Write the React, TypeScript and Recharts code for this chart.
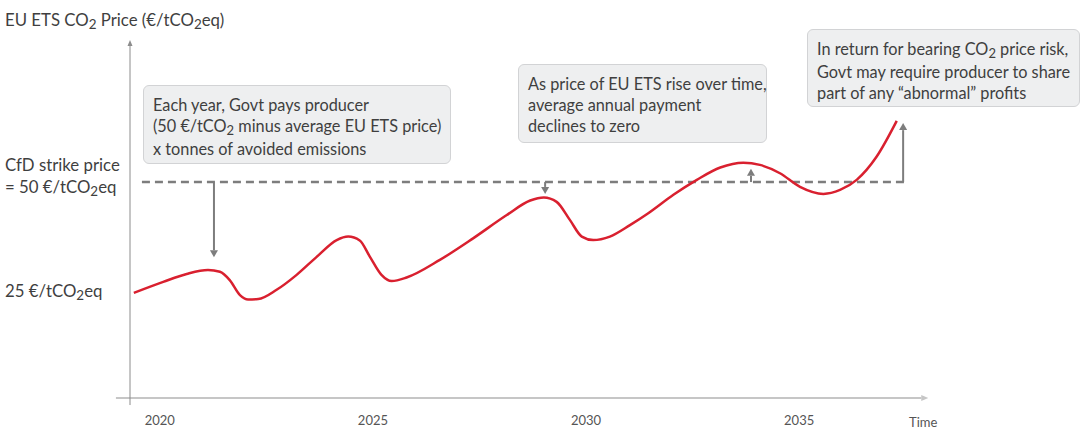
import React from "react";
import { LineChart, Line, XAxis, YAxis, ReferenceLine } from "recharts";

// EU ETS price path (year, €/tCO2eq)
const years = [
  2019.39, 2020.08, 2020.63, 2021.13, 2021.41, 2021.64, 2021.88, 2022.07, 2022.31, 2022.74,
  2023.21, 2023.68, 2024.15, 2024.42, 2024.69, 2024.93, 2025.2, 2025.44, 2025.79, 2026.57,
  2027.35, 2028.14, 2028.69, 2029.01, 2029.31, 2029.62, 2029.9, 2030.17, 2030.56, 2031.03,
  2031.46, 2032.05, 2032.6, 2033.15, 2033.69, 2034.08, 2034.55, 2035.02, 2035.57, 2035.96,
  2036.35, 2036.82, 2037.29,
];
const prices = [
  24.8, 27.3, 29.1, 30.0, 29.6, 27.7, 24.3, 23.3, 23.4, 25.5,
  28.9, 33.0, 36.8, 37.6, 36.7, 33.0, 28.9, 27.5, 28.3, 32.3,
  37.2, 42.5, 45.8, 46.5, 45.5, 41.4, 37.6, 36.8, 37.6, 40.2,
  42.9, 47.1, 50.5, 53.3, 54.4, 53.9, 52.0, 48.9, 47.3, 48.2,
  50.5, 55.8, 63.9,
];
const yearTicks = [2020, 2025, 2030, 2035];

const strikePrice = 50;
const strikeFrom = 2019.58;
const strikeTo = 2037.49;

// payment / profit-share arrows: year, from strike price to this value
const arrowYears = [2021.27, 2029.04, 2033.87, 2037.44];
const arrowEnds = [32.9, 47.3, 53.0, 63.4];

const data = years.map((year, i) => ({ year, price: prices[i] }));

const RED = "#d9202f";
const GREY = "#7d7d7d";
const TEXT = "#3f3f3f";
const FONT = "Lato, 'Noto Sans', sans-serif";

function Arrow(p: any) {
  const { x1, y1, x2, y2, stroke, strokeWidth, hl, hw } = p;
  const dx = x2 - x1;
  const dy = y2 - y1;
  const len = Math.hypot(dx, dy) || 1;
  const ux = dx / len;
  const uy = dy / len;
  const bx = x2 - ux * hl;
  const by = y2 - uy * hl;
  const px = (-uy * hw) / 2;
  const py = (ux * hw) / 2;
  return (
    <g>
      <line x1={x1} y1={y1} x2={bx} y2={by} stroke={stroke} strokeWidth={strokeWidth} />
      <polygon points={`${x2},${y2} ${bx + px},${by + py} ${bx - px},${by - py}`} fill={stroke} />
    </g>
  );
}

const Sub = () => (
  <span style={{ fontSize: "0.8em", position: "relative", top: "0.22em" }}>2</span>
);

const boxStyle: React.CSSProperties = {
  position: "absolute",
  boxSizing: "border-box",
  background: "#eeeff0",
  border: "1px solid #d2d3d5",
  borderRadius: 6,
  padding: "8px 9px",
  fontSize: 16.3,
  lineHeight: "21px",
  color: TEXT,
  whiteSpace: "nowrap",
};

const labelStyle: React.CSSProperties = {
  position: "absolute",
  left: 5,
  fontSize: 16.8,
  color: TEXT,
  whiteSpace: "nowrap",
  lineHeight: "22px",
};

export default function App() {
  return (
    <div style={{ position: "absolute", left: 0, top: 0, width: 1084, height: 429, fontFamily: FONT, background: "#fff" }}>
      <LineChart width={1084} height={429} data={data} margin={{ top: 40, right: 157, bottom: 0, left: 130 }}>
        <XAxis
          dataKey="year"
          type="number"
          domain={[2019.3, 2038]}
          allowDataOverflow
          ticks={yearTicks}
          tickLine={false}
          axisLine={false}
          height={31}
          tickMargin={12}
          tick={{ fill: "#555", fontSize: 13, fontFamily: FONT }}
        />
        <YAxis type="number" domain={[0.9, 82.3]} allowDataOverflow hide />
        {/* axes */}
        <ReferenceLine
          ifOverflow="visible"
          segment={[{ x: 2018.97, y: 0.9 }, { x: 2038.03, y: 0.9 }]}
          stroke="#c6c6c6"
          strokeWidth={2}
          shape={(p: any) => <Arrow {...p} hl={7} hw={6} />}
        />
        <ReferenceLine
          ifOverflow="visible"
          segment={[{ x: 2019.3, y: -0.7 }, { x: 2019.3, y: 82.3 }]}
          stroke="#8c8c8c"
          strokeWidth={1}
          shape={(p: any) => <Arrow {...p} hl={6} hw={5} />}
        />
        {/* strike price */}
        <ReferenceLine
          ifOverflow="visible"
          segment={[{ x: strikeFrom, y: strikePrice }, { x: strikeTo, y: strikePrice }]}
          stroke={GREY}
          strokeWidth={2.5}
          strokeDasharray="8 5"
        />
        {arrowYears.map((yr, i) => (
          <ReferenceLine
            key={i}
            ifOverflow="visible"
            segment={[{ x: yr, y: strikePrice }, { x: yr, y: arrowEnds[i] }]}
            stroke={GREY}
            strokeWidth={2}
            shape={(p: any) => <Arrow {...p} hl={7} hw={8} />}
          />
        ))}
        <Line
          type="monotone"
          dataKey="price"
          stroke={RED}
          strokeWidth={2.5}
          dot={false}
          isAnimationActive={false}
        />
      </LineChart>

      <div style={{ ...labelStyle, top: 9 }}>
        EU ETS CO<Sub /> Price (€/tCO<Sub />eq)
      </div>
      <div style={{ ...labelStyle, top: 154 }}>
        CfD strike price
        <br />= 50 €/tCO<Sub />eq
      </div>
      <div style={{ ...labelStyle, top: 280 }}>
        25 €/tCO<Sub />eq
      </div>
      <div style={{ position: "absolute", left: 909, top: 413, fontSize: 13, color: "#555", lineHeight: "18px" }}>Time</div>

      <div style={{ ...boxStyle, left: 143, top: 85, width: 308, height: 79 }}>
        Each year, Govt pays producer
        <br />
        (50 €/tCO<Sub /> minus average EU ETS price)
        <br />x tonnes of avoided emissions
      </div>
      <div style={{ ...boxStyle, left: 518, top: 64, width: 249, height: 79 }}>
        As price of EU ETS rise over time,
        <br />
        average annual payment
        <br />
        declines to zero
      </div>
      <div style={{ ...boxStyle, left: 807, top: 29, width: 273, height: 78 }}>
        In return for bearing CO<Sub /> price risk,
        <br />
        Govt may require producer to share
        <br />
        part of any “abnormal” profits
      </div>
    </div>
  );
}
